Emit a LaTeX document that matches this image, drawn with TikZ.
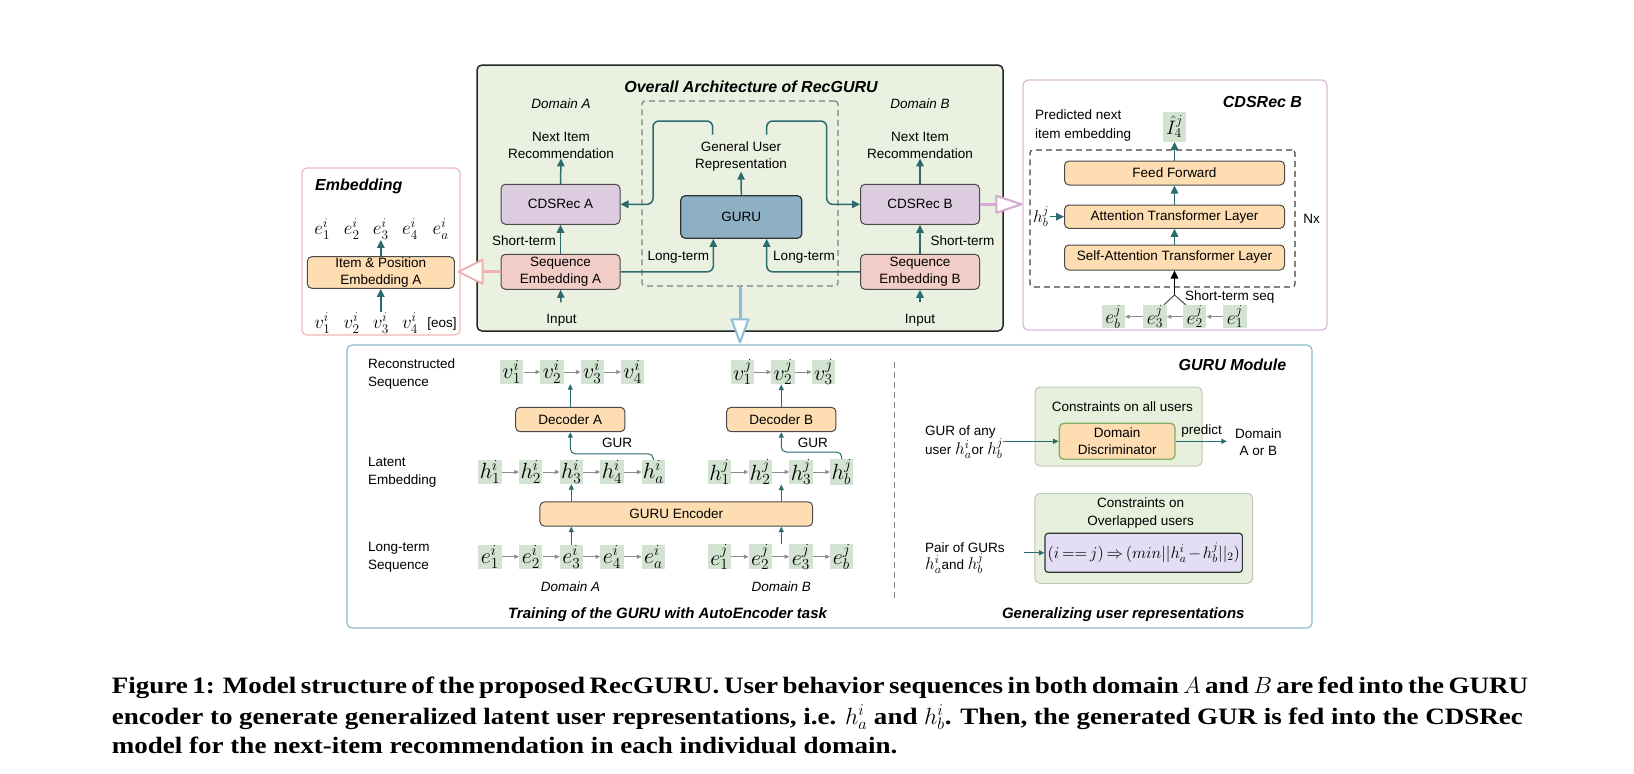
\RequirePackage{fix-cm}
\documentclass[tikz,border=0pt]{standalone}
\usepackage[no-math]{fontspec}
\setmainfont{Liberation Sans}
\newfontfamily\capserif[FakeStretch=1.15]{Liberation Serif}
\usetikzlibrary{arrows.meta,calc}

\definecolor{panelgreen}{HTML}{EAF1E1}
\definecolor{tealc}{HTML}{2B6B6E}
\definecolor{purpbox}{HTML}{DDCCE0}
\definecolor{pinkbox}{HTML}{F2CDC7}
\definecolor{gurublue}{HTML}{8EB0C5}
\definecolor{orangebox}{HTML}{FDDDB1}
\definecolor{cellgreen}{HTML}{D2E3D2}
\definecolor{lavbox}{HTML}{E3DEF4}
\definecolor{consgreen}{HTML}{E7F0DD}
\definecolor{consborder}{HTML}{BFCAB6}
\definecolor{ddborder}{HTML}{86AD66}
\definecolor{embborder}{HTML}{F0B8B8}
\definecolor{cdsborder}{HTML}{D9BBD7}
\definecolor{gmborder}{HTML}{8FBACE}
\definecolor{pinkarrow}{HTML}{F0B0B0}
\definecolor{purparrow}{HTML}{D4A8D0}
\definecolor{bluearrow}{HTML}{8CBCD8}
\definecolor{boxedge}{HTML}{4A4A4A}
\definecolor{dashgray}{HTML}{808080}
\definecolor{grayarr}{HTML}{8C8C8C}

\newcommand{\mytxt}{\fontsize{13.5}{17}\selectfont}
\newcommand{\myttl}{\fontsize{16}{19}\selectfont\bfseries\itshape}
\newcommand{\mysubttl}{\fontsize{15}{18}\selectfont\bfseries\itshape}
\newcommand{\lgmath}[1]{{\fontsize{17}{19}\selectfont$#1$}}

\begin{document}
\begin{tikzpicture}[x=1pt,y=-1pt,
  lbl/.style={inner sep=0pt, align=center, font=\mytxt},
  rbox/.style={draw=boxedge, line width=1pt, rounded corners=4.5pt, inner sep=0pt, align=center, font=\mytxt},
  mcell/.style={fill=cellgreen, inner sep=0pt, minimum width=23.3pt, minimum height=24pt, font=\fontsize{22}{24}\selectfont},
  scell/.style={fill=cellgreen, inner sep=0pt, minimum width=23.3pt, minimum height=23.3pt, font=\fontsize{19.5}{22}\selectfont},
  mth/.style={inner sep=0.5pt, font=\fontsize{19}{21}\selectfont},
  pnl/.style={inner sep=0pt, rounded corners=5pt, line width=1.2pt},
  tarrow/.style={draw=tealc, line width=1.5pt, -{Triangle[length=8pt,width=7.5pt]}},
  tarrowS/.style={draw=tealc, line width=1pt, -{Triangle[length=5.5pt,width=5pt]}},
  garrow/.style={draw=grayarr, line width=0.9pt, -{Triangle[length=4.5pt,width=4pt]}},
]
\fill[white] (0,0) rectangle (1634,774);
\useasboundingbox (0,0) rectangle (1634,774);

% ---------- panels ----------
\node[pnl, draw=embborder, fill=white, minimum width=158pt, minimum height=167pt] (embpanel) at (381,251.5) {};
\node[pnl, draw=black!85, fill=panelgreen, line width=1.5pt, minimum width=526pt, minimum height=266pt] (overall) at (740,198) {};
\node[pnl, draw=cdsborder, fill=white, minimum width=304pt, minimum height=250pt] (cdspanel) at (1175,205) {};
\node[pnl, draw=gmborder, fill=white, minimum width=965pt, minimum height=283pt] (gmpanel) at (829.5,486.5) {};

% ---------- Embedding panel ----------
\node[lbl, font=\myttl, anchor=west] (embt) at (315,186.7) {Embedding};
\node[mth] (ee1) at (322.3,229) {$e_1^i$};
\node[mth] (ee2) at (351.7,229) {$e_2^i$};
\node[mth] (ee3) at (380.8,229) {$e_3^i$};
\node[mth] (ee4) at (410,229) {$e_4^i$};
\node[mth] (ee5) at (440.7,229) {$e_a^i$};
\node[rbox, fill=orangebox, minimum width=147pt, minimum height=31.6pt] (ipe) at (380.8,272.5) {Item \& Position\\Embedding A};
\node[mth] (ev1) at (322.3,323) {$v_1^i$};
\node[mth] (ev2) at (351.7,323) {$v_2^i$};
\node[mth] (ev3) at (380.8,323) {$v_3^i$};
\node[mth] (ev4) at (410,323) {$v_4^i$};
\node[lbl] (eos) at (442,324) {[eos]};
\draw[tarrow] (ipe.north) -- (ee3.south);
\draw[tarrow] (ev3.north) -- (ipe.south);

% ---------- Overall architecture ----------
\node[pnl, draw=dashgray, dash pattern=on 6pt off 4pt, rounded corners=3pt, minimum width=196pt, minimum height=185pt] (dash) at (740,193.5) {};
\node[lbl, font=\myttl] (ovt) at (751,86.7) {Overall Architecture of RecGURU};
\node[lbl, font=\mytxt\itshape] (domA) at (561,103.3) {Domain A};
\node[lbl, font=\mytxt\itshape] (domB) at (920,103.3) {Domain B};

\node[lbl] (nirA) at (561,145) {Next Item\\Recommendation};
\node[lbl] (nirB) at (920,145) {Next Item\\Recommendation};
\node[rbox, fill=purpbox, minimum width=119pt, minimum height=40pt] (cdsA) at (560.5,204.3) {CDSRec A};
\node[rbox, fill=purpbox, minimum width=119pt, minimum height=40pt] (cdsB) at (920,204.3) {CDSRec B};
\node[rbox, fill=pinkbox, minimum width=119pt, minimum height=35pt] (seqA) at (560.5,271.8) {Sequence\\Embedding A};
\node[rbox, fill=pinkbox, minimum width=119pt, minimum height=35pt] (seqB) at (920,271.8) {Sequence\\Embedding B};
\node[lbl] (inA) at (561.5,320.5) {Input};
\node[lbl] (inB) at (920,320.5) {Input};
\node[lbl, anchor=east] (stA) at (556,240.7) {Short-term};
\node[lbl, anchor=west] (stB) at (930.5,240.7) {Short-term};
\node[rbox, fill=gurublue, draw=black!80, line width=1.2pt, minimum width=121pt, minimum height=42.6pt] (guru) at (741.3,217) {GURU};
\node[lbl] (gur) at (741,156.7) {General User\\Representation};
\node[lbl] (ltA) at (678.3,257.7) {Long-term};
\node[lbl] (ltB) at (804,257.7) {Long-term};

\draw[tarrow] (cdsA.north) -- (nirA.south);
\draw[tarrow] (cdsB.north) -- (nirB.south);
\draw[tarrow] (seqA.north) -- (cdsA.south);
\draw[tarrow] (seqB.north) -- (cdsB.south);
\draw[tarrow, shorten <=12pt] (inA.north) -- (seqA.south);
\draw[tarrow, shorten <=12pt] (inB.north) -- (seqB.south);
\draw[tarrow] (guru.north) -- (gur.south);
\draw[tarrow, rounded corners=6pt, shorten <=7pt] ([xshift=-28.3pt]gur.north) |- (653,121) |- (cdsA.east);
\draw[tarrow, rounded corners=6pt, shorten <=7pt] ([xshift=25.7pt]gur.north) |- (826.7,121) |- (cdsB.west);
\draw[tarrow, rounded corners=6pt] (seqA.east) -| ([xshift=-28pt]guru.south);
\draw[tarrow, rounded corners=6pt] (seqB.west) -| ([xshift=25.4pt]guru.south);

% hollow arrows
\coordinate (pkTip) at ($(seqA.west -| embpanel.east)+(-2,0)$);
\draw[line width=3pt, pinkarrow] (seqA.west) -- ($(pkTip)+(23,0)$);
\draw[line width=2pt, pinkarrow, fill=white, line join=round] (pkTip) -- ++(24,-12) -- ++(0,24) -- cycle;
\coordinate (puTip) at ($(cdsB.east -| cdspanel.west)+(-1,0)$);
\draw[line width=3pt, purparrow] (cdsB.east) -- ($(puTip)+(-24,0)$);
\draw[line width=2pt, purparrow, fill=white, line join=round] (puTip) -- ++(-25,-8.5) -- ++(0,17) -- cycle;
\coordinate (blTip) at ($(dash.south |- gmpanel.north)+(0,-2)$);
\draw[line width=3pt, bluearrow] (dash.south) -- ($(blTip)+(0,-22)$);
\draw[line width=2pt, bluearrow, fill=white, line join=round] (blTip) -- ++(-8.5,-23) -- ++(17,0) -- cycle;

% ---------- CDSRec B panel ----------
\node[pnl, draw=black!75, dash pattern=on 6pt off 4pt, line width=1.1pt, rounded corners=3pt, minimum width=265pt, minimum height=137pt] (cdsdash) at (1162.5,218.5) {};
\node[lbl, font=\myttl] (cdsbt) at (1262.5,101.7) {CDSRec B};
\node[lbl, align=left, anchor=west, font=\fontsize{13.5}{19.3}\selectfont] (pred) at (1035,125.3) {Predicted next\\item embedding};
\node[scell, minimum height=30pt] (ihat) at (1174.5,126.7) {$\hat{I}_4^j$};
\node[rbox, fill=orangebox, minimum width=220pt, minimum height=24pt] (ff) at (1174.5,173) {Feed Forward};
\node[rbox, fill=orangebox, minimum width=220pt, minimum height=23.3pt] (atl) at (1174.5,216.7) {Attention Transformer Layer};
\node[rbox, fill=orangebox, minimum width=220pt, minimum height=25pt] (satl) at (1174.5,257.5) {Self-Attention Transformer Layer};
\node[mth, font=\fontsize{17}{19}\selectfont] (hbl) at (1041,216.7) {$h_b^j$};
\node[lbl] (nx) at (1311.5,219) {Nx};
\node[lbl, anchor=west] (sts) at (1185,296.7) {Short-term seq};
\node[scell] (cb) at (1113.3,316.7) {$e_b^j$};
\node[scell] (c3) at (1155,316.7) {$e_3^j$};
\node[scell] (c2) at (1194.7,316.7) {$e_2^j$};
\node[scell] (c1) at (1235,316.7) {$e_1^j$};
\coordinate (apex) at (1174.5,295);
\draw[tarrow] (ff.north) -- (ihat.south);
\draw[tarrow] (atl.north) -- (ff.south);
\draw[tarrow] (satl.north) -- (atl.south);
\draw[tarrow] (hbl.east) -- (atl.west);
\draw[black, line width=1.5pt, -{Triangle[length=8pt,width=7.5pt]}] (apex) -- (satl.south);
\draw[black!70, line width=1pt] ([xshift=-3pt]c3.north east) -- (apex) -- ([xshift=3pt]c2.north west);
\draw[garrow] (c1.west) -- (c2.east);
\draw[garrow] (c2.west) -- (c3.east);
\draw[garrow] (c3.west) -- (cb.east);

% ---------- GURU Module panel ----------
\node[lbl, font=\myttl] (gmt) at (1232.5,364.3) {GURU Module};
\node[lbl, align=left, anchor=west, font=\fontsize{13.5}{18}\selectfont] (rsq) at (368,373.8) {Reconstructed\\Sequence};
\node[lbl, align=left, anchor=west, font=\fontsize{13.5}{18}\selectfont] (lemb) at (368,472.5) {Latent\\Embedding};
\node[lbl, align=left, anchor=west, font=\fontsize{13.5}{18}\selectfont] (ltsq) at (368,557.2) {Long-term\\Sequence};

\node[mcell] (va1) at (511.7,372) {$v_1^i$};
\node[mcell] (va2) at (552,372) {$v_2^i$};
\node[mcell] (va3) at (592.3,372) {$v_3^i$};
\node[mcell] (va4) at (632.7,372) {$v_4^i$};
\node[mcell] (vb1) at (742.5,372) {$v_1^j$};
\node[mcell] (vb2) at (783,372) {$v_2^j$};
\node[mcell] (vb3) at (823.5,372) {$v_3^j$};

\node[mcell] (ha1) at (490,472) {$h_1^i$};
\node[mcell] (ha2) at (530.8,472) {$h_2^i$};
\node[mcell] (ha3) at (571.3,472) {$h_3^i$};
\node[mcell] (ha4) at (612,472) {$h_4^i$};
\node[mcell] (haa) at (653.3,472) {$h_a^i$};
\node[mcell] (hb1) at (719.5,472) {$h_1^j$};
\node[mcell] (hb2) at (760.2,472) {$h_2^j$};
\node[mcell] (hb3) at (801,472) {$h_3^j$};
\node[mcell] (hbb) at (841.7,472) {$h_b^j$};

\node[mcell] (ea1) at (490,556.7) {$e_1^i$};
\node[mcell] (ea2) at (530.8,556.7) {$e_2^i$};
\node[mcell] (ea3) at (571.3,556.7) {$e_3^i$};
\node[mcell] (ea4) at (612,556.7) {$e_4^i$};
\node[mcell] (eaa) at (653.3,556.7) {$e_a^i$};
\node[mcell] (eb1) at (719.5,556.7) {$e_1^j$};
\node[mcell] (eb2) at (760.2,556.7) {$e_2^j$};
\node[mcell] (eb3) at (801,556.7) {$e_3^j$};
\node[mcell] (ebb) at (841.7,556.7) {$e_b^j$};

\foreach \a/\b in {va1/va2,va2/va3,va3/va4,vb1/vb2,vb2/vb3,ha1/ha2,ha2/ha3,ha3/ha4,ha4/haa,hb1/hb2,hb2/hb3,hb3/hbb,ea1/ea2,ea2/ea3,ea3/ea4,ea4/eaa,eb1/eb2,eb2/eb3,eb3/ebb}
  \draw[garrow] (\a.east) -- (\b.west);

\node[rbox, fill=orangebox, minimum width=109.3pt, minimum height=24.4pt] (decA) at (570.3,419.5) {Decoder A};
\node[rbox, fill=orangebox, minimum width=109.3pt, minimum height=24.4pt] (decB) at (781.3,419.5) {Decoder B};
\node[rbox, fill=orangebox, minimum width=272.7pt, minimum height=24.3pt] (enc) at (676.3,514) {GURU Encoder};
\node[lbl] (gurA) at (617,443) {GUR};
\node[lbl] (gurB) at (812.8,443) {GUR};
\node[lbl, font=\mytxt\itshape] (bdA) at (570.5,586.7) {Domain A};
\node[lbl, font=\mytxt\itshape] (bdB) at (781.3,586.7) {Domain B};
\node[lbl, font=\mysubttl] (trt) at (667.5,614.3) {Training of the GURU with AutoEncoder task};

\draw[tarrowS] (decA.north) -- (decA.north |- va2.south);
\draw[tarrowS] (decB.north) -- (decB.north |- vb2.south);
\draw[tarrowS, rounded corners=5pt] (haa.north) -- ++(0,-6) -| (decA.south);
\draw[tarrowS, rounded corners=5pt] (hbb.north) -- ++(0,-7) -| (decB.south);
\draw[tarrowS] (enc.north -| ha3.south) -- (ha3.south);
\draw[tarrowS] (enc.north -| decB.south) -- (hb2.south -| decB.south);
\draw[tarrowS] (ea3.north) -- (ea3.north |- enc.south);
\draw[tarrowS] (eb2.north -| decB.south) -- (enc.south -| decB.south);

\coordinate (divtop) at (894,361.7);
\coordinate (divbot) at (894,598.3);
\draw[dashgray, line width=1pt, dash pattern=on 6pt off 4pt] (divtop) -- (divbot);

% right side
\node[pnl, draw=consborder, fill=consgreen, line width=1pt, minimum width=167pt, minimum height=79pt] (consall) at (1118.5,426.5) {};
\node[lbl] (consallt) at (1122.3,406.7) {Constraints on all users};
\node[rbox, fill=orangebox, draw=ddborder, line width=1.3pt, minimum width=115.7pt, minimum height=36pt] (dd) at (1117.2,441.3) {Domain\\Discriminator};
\node[lbl, align=left, anchor=west, font=\fontsize{13.5}{19}\selectfont] (gurany) at (925,442) {GUR of any\\user \lgmath{h_a^i}or \lgmath{h_b^j}};
\node[lbl] (pdt) at (1201.7,431) {predict};
\node[lbl] (domab) at (1258.3,442) {Domain\\A or B};
\draw[tarrowS] (gurany.east |- dd.west) -- (dd.west);
\draw[tarrowS, shorten >=8pt] (dd.east) -- (dd.east -| domab.west);

\node[pnl, draw=consborder, fill=consgreen, line width=1pt, minimum width=217.7pt, minimum height=90pt] (consov) at (1143.8,538.3) {};
\node[lbl, font=\fontsize{13.5}{17.7}\selectfont] (consovt) at (1140.7,512.9) {Constraints on\\Overlapped users};
\node[rbox, fill=lavbox, draw=black!80, line width=1.2pt, rounded corners=3pt, minimum width=197.3pt, minimum height=39pt, font=\fontsize{16.5}{18}\selectfont] (form) at (1143.7,552.8)
  {$\thickmuskip=3mu\medmuskip=2mu\bigl(i == j\bigr) \Rightarrow \bigl(min||h_a^i - h_b^j||_2\bigr)$};
\node[lbl, align=left, anchor=west, font=\fontsize{13.5}{17.4}\selectfont] (pair) at (925,558) {Pair of GURs\\\lgmath{h_a^i}and \lgmath{h_b^j}};
\draw[tarrowS, shorten <=19pt] (pair.east |- form.west) -- (form.west);
\node[lbl, font=\mysubttl] (gent) at (1123.3,614.3) {Generalizing user representations};

% ---------- caption ----------
\node[anchor=base west, inner sep=0pt, font=\capserif\fontsize{23.5}{28}\selectfont\bfseries] (cap1) at (111.7,693)
  {\makebox[1411pt][s]{Figure 1: Model structure of the proposed RecGURU. User behavior sequences in both domain $A$ and $B$ are fed into the GURU}};
\node[anchor=base west, inner sep=0pt, font=\capserif\fontsize{23.5}{28}\selectfont\bfseries] (cap2) at (111.7,724)
  {\makebox[1411pt][s]{encoder to generate generalized latent user representations, i.e. $h^i_a$ and $h^i_b$. Then, the generated GUR is fed into the CDSRec}};
\node[anchor=base west, inner sep=0pt, font=\capserif\fontsize{23.5}{28}\selectfont\bfseries] (cap3) at (111.7,753)
  {model for the next-item recommendation in each individual domain.};
\end{tikzpicture}
\end{document}
